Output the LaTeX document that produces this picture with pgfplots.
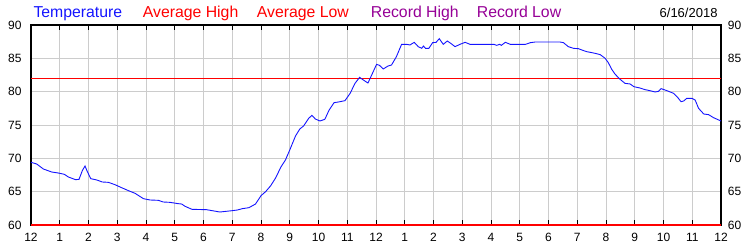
\documentclass[border=0pt]{standalone}
\usepackage{pgfplots}
\pgfplotsset{compat=1.18}
\usepackage{fontspec}
\setmainfont{Liberation Sans}
\definecolor{tblue}{RGB}{20,20,255}
\definecolor{rpurple}{RGB}{150,0,150}
\definecolor{gridgray}{RGB}{204,204,204}
\begin{document}
\begin{tikzpicture}
\path[use as bounding box] (0,0) rectangle (750bp,250bp);
\begin{axis}[
  at={(31bp,25bp)}, anchor=south west,
  scale only axis, width=690bp, height=200bp,
  xmin=0, xmax=24, ymin=60, ymax=90,
  clip=false,
  axis line style={black, line width=1.2bp},
  xtick={0,...,24},
  xticklabels={12,1,2,3,4,5,6,7,8,9,10,11,12,1,2,3,4,5,6,7,8,9,10,11,12},
  ytick={60,65,...,90},
  xtick pos=both,
  major tick length=4.5bp,
  xtick style={black, line width=0.8bp},
  ytick style={draw=none},
  grid=major,
  major grid style={gridgray, line width=0.8bp},
  /pgf/number format/assume math mode=true,
  ticklabel style={font=\fontsize{12bp}{14bp}\selectfont},
  xticklabel style={anchor=north, inner sep=0pt, yshift=-8bp},
  yticklabel style={anchor=east, inner sep=0pt, xshift=-9.3bp},
]
\addplot[red, line width=1bp] coordinates {(0,82) (24,82)};
\addplot[red, line width=1.4bp] coordinates {(0,60) (24,60)};
\addplot[tblue, line width=0.9bp] coordinates {
(0,69.4) (0.2,69.15) (0.43,68.4) (0.72,67.95) (0.95,67.8) (1.16,67.6) (1.3,67.2)
(1.55,66.8) (1.67,66.85) (1.79,68.2) (1.88,68.85) (1.96,68.0) (2.08,66.95) (2.29,66.75)
(2.48,66.45) (2.69,66.4) (2.92,66.05) (3.15,65.6) (3.39,65.15) (3.62,64.75) (3.91,63.95)
(4.14,63.75) (4.43,63.7) (4.6,63.45) (4.83,63.4) (5.12,63.2) (5.24,63.15) (5.36,62.8)
(5.6,62.35) (6.1,62.3) (6.57,61.95) (7.0,62.15) (7.18,62.25) (7.35,62.45) (7.58,62.6)
(7.81,63.15) (8.0,64.4) (8.16,65.0) (8.33,65.85) (8.5,67.0) (8.7,68.75) (8.85,69.75)
(9.0,71.25) (9.2,73.35) (9.35,74.4) (9.48,74.85) (9.66,76.0) (9.77,76.45) (9.89,75.9)
(10.05,75.6) (10.22,75.85) (10.37,77.25) (10.54,78.35) (10.69,78.45) (10.92,78.65)
(11.1,79.75) (11.27,81.25) (11.43,82.15) (11.56,81.75) (11.72,81.3) (11.85,82.5)
(12.02,84.1) (12.12,83.95) (12.25,83.4) (12.42,83.85) (12.54,84.0) (12.71,85.25)
(12.89,87.1) (13.07,87.1) (13.18,87.0) (13.33,87.4) (13.47,86.75) (13.59,86.5)
(13.65,86.85) (13.72,86.5) (13.84,86.5) (13.97,87.35) (14.09,87.4) (14.2,87.95)
(14.34,87.1) (14.48,87.6) (14.6,87.25) (14.75,86.75) (14.92,87.1) (15.1,87.4)
(15.27,87.1) (16.1,87.1) (16.2,86.95) (16.3,87.1) (16.36,86.95) (16.5,87.4) (16.67,87.1)
(17.2,87.1) (17.37,87.35) (17.54,87.45) (18.4,87.45) (18.52,87.35) (18.69,86.75)
(18.87,86.5) (19.04,86.45) (19.16,86.25) (19.33,86.0) (19.51,85.85) (19.62,85.75)
(19.8,85.55) (19.97,85.0) (20.08,84.35) (20.2,83.35) (20.31,82.65) (20.49,81.85)
(20.66,81.25) (20.84,81.15) (20.97,80.75) (21.18,80.55) (21.36,80.3) (21.53,80.15)
(21.71,79.95) (21.82,80.05) (21.92,80.45) (22.12,80.15) (22.35,79.75) (22.49,79.15)
(22.61,78.5) (22.7,78.6) (22.81,79.0) (22.99,79.0) (23.1,78.75) (23.22,77.5)
(23.4,76.65) (23.57,76.55) (23.74,76.1) (24,75.6)
};
\end{axis}
\begin{axis}[
  at={(31bp,25bp)}, anchor=south west,
  scale only axis, width=690bp, height=200bp,
  xmin=0, xmax=24, ymin=60, ymax=90,
  hide x axis,
  axis y line*=right,
  y axis line style={draw=none},
  ytick={60,65,...,90},
  ytick style={draw=none},
  /pgf/number format/assume math mode=true,
  ticklabel style={font=\fontsize{12bp}{14bp}\selectfont},
  yticklabel style={anchor=west, inner sep=0pt, xshift=6.7bp},
]
\addplot[draw=none] coordinates {(0,60) (24,90)};
\end{axis}
\begin{scope}[every node/.style={inner sep=0pt, font=\fontsize{15.8bp}{18bp}\selectfont}]
\node[anchor=base west, text=tblue] at (33.3bp,232.7bp) {Temperature};
\node[anchor=base west, text=red] at (142.7bp,232.7bp) {Average High};
\node[anchor=base west, text=red] at (256.7bp,232.7bp) {Average Low};
\node[anchor=base west, text=rpurple] at (370.7bp,232.7bp) {Record High};
\node[anchor=base west, text=rpurple] at (476.7bp,232.7bp) {Record Low};
\node[anchor=base east, font=\fontsize{13bp}{15bp}\selectfont] at (717.7bp,232.7bp) {6/16/2018};
\end{scope}
\end{tikzpicture}
\end{document}
